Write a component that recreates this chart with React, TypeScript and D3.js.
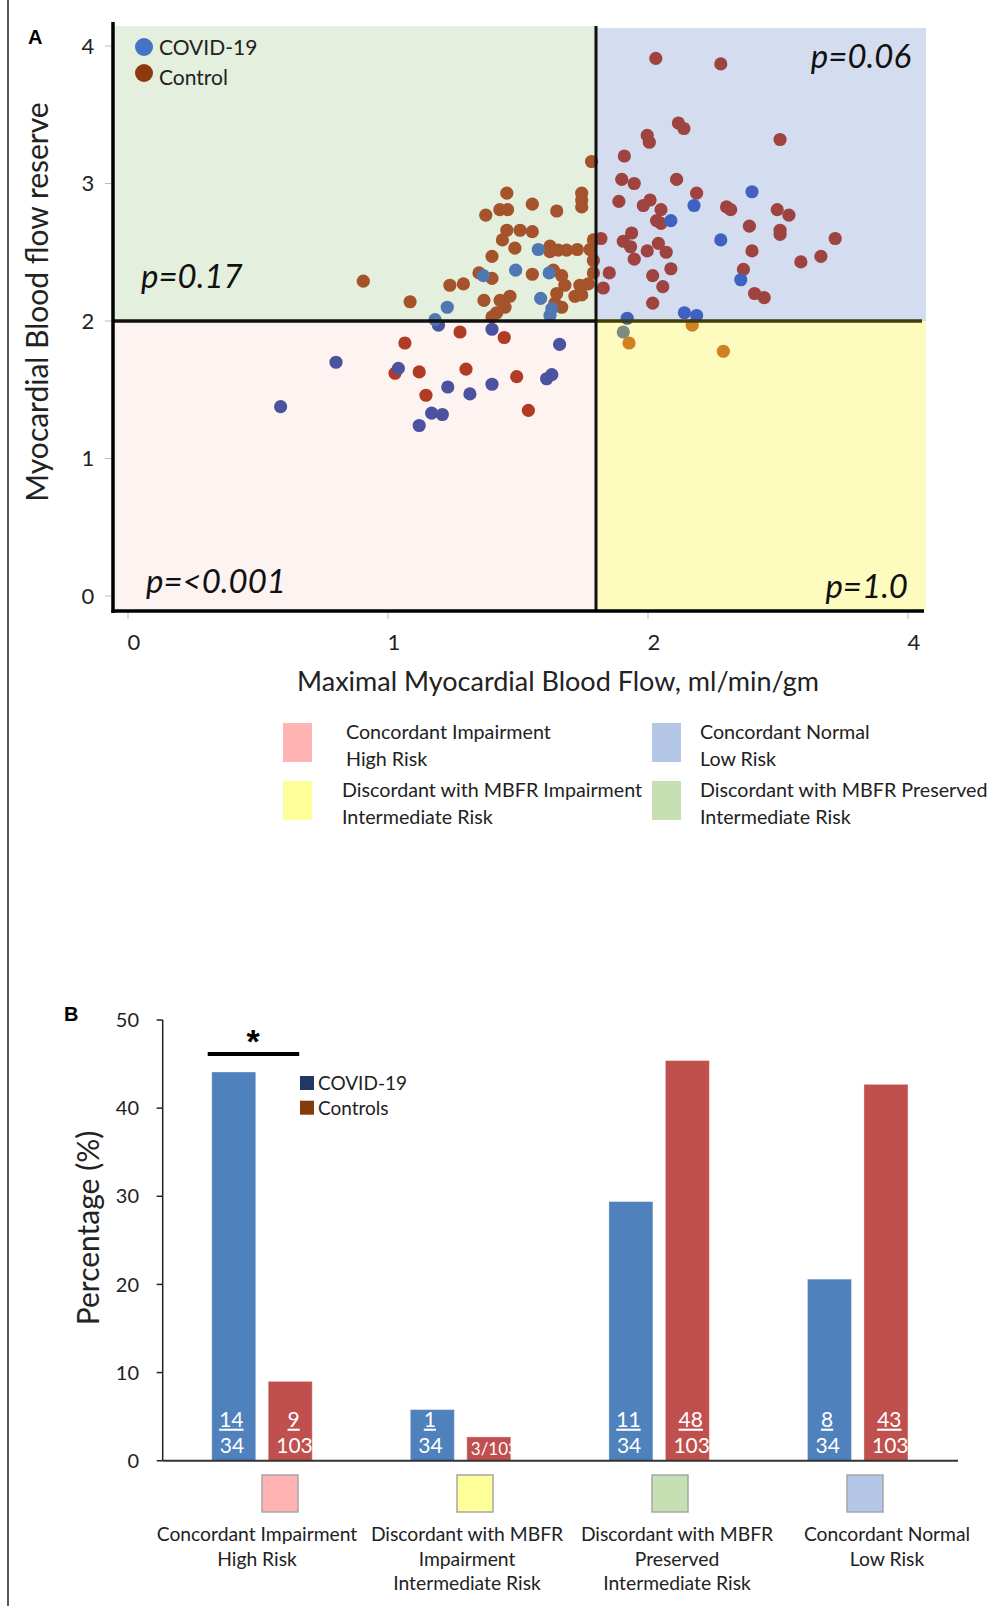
import React from "react";
import * as d3 from "d3";

// ---------- Panel A: maximal MBF (x) vs MBF reserve (y) ----------
const covidPoints: [number, number][] = [
  // concordant impairment
  [0.587, 1.377], [0.8, 1.7], [1.04, 1.656], [1.194, 1.97], [1.4, 1.94], [1.66, 1.83],
  [1.23, 1.52], [1.315, 1.47], [1.4, 1.54], [1.61, 1.58], [1.63, 1.61], [1.168, 1.33],
  [1.209, 1.32], [1.12, 1.24],
  // discordant, MBFR preserved
  [1.181, 2.01], [1.578, 2.52], [1.491, 2.37], [1.62, 2.35], [1.367, 2.33], [1.587, 2.165],
  [1.228, 2.1], [1.63, 2.09], [1.623, 2.04],
  // concordant normal
  [2.4, 2.94], [2.177, 2.84], [2.088, 2.73], [2.28, 2.59], [2.357, 2.3], [2.14, 2.06],
  [2.187, 2.04], [1.92, 2.02],
  // discordant, MBFR impaired
  [1.905, 1.92],
];

const controlPoints: [number, number][] = [
  // discordant, MBFR preserved
  [1.783, 3.16], [1.457, 2.93], [1.745, 2.93], [1.745, 2.88], [1.745, 2.83], [1.555, 2.85],
  [1.43, 2.81], [1.46, 2.81], [1.376, 2.77], [1.649, 2.8], [1.457, 2.66], [1.508, 2.66],
  [1.555, 2.65], [1.44, 2.59], [1.488, 2.53], [1.623, 2.545], [1.623, 2.504], [1.655, 2.516],
  [1.687, 2.516], [1.728, 2.52], [1.777, 2.52], [1.79, 2.59], [1.79, 2.44], [1.79, 2.35],
  [1.4, 2.47], [1.35, 2.35], [1.4, 2.31], [1.555, 2.34], [1.636, 2.37], [1.668, 2.33],
  [1.68, 2.26], [1.738, 2.26], [1.77, 2.27], [1.719, 2.18], [1.745, 2.19], [0.905, 2.29],
  [1.238, 2.26], [1.29, 2.27], [1.085, 2.14], [1.369, 2.15], [1.431, 2.15], [1.469, 2.18],
  [1.45, 2.1], [1.418, 2.06], [1.4, 2.03], [1.649, 2.2], [1.642, 2.13], [1.668, 2.1],
  // concordant normal
  [2.03, 3.91], [2.28, 3.87], [2.117, 3.44], [2.138, 3.4], [1.997, 3.35], [2.005, 3.3],
  [2.508, 3.32], [1.909, 3.2], [1.899, 3.03], [1.947, 3.0], [2.11, 3.03], [2.187, 2.93],
  [1.888, 2.87], [1.982, 2.84], [2.008, 2.88], [2.05, 2.81], [2.033, 2.73], [2.05, 2.71],
  [2.302, 2.83], [2.318, 2.81], [2.497, 2.81], [2.542, 2.77], [2.39, 2.69], [2.508, 2.66],
  [2.508, 2.63], [2.72, 2.6], [1.819, 2.6], [1.937, 2.64], [1.905, 2.58], [1.933, 2.54],
  [1.947, 2.45], [1.997, 2.51], [2.04, 2.565], [2.07, 2.5], [2.4, 2.51], [1.851, 2.35],
  [1.828, 2.24], [2.088, 2.38], [2.018, 2.33], [2.057, 2.25], [2.367, 2.375], [2.588, 2.43],
  [2.665, 2.47], [2.41, 2.2], [2.447, 2.17], [2.018, 2.13],
  // discordant, MBFR impaired
  [1.927, 1.84], [2.17, 1.97], [2.29, 1.78],
  // concordant impairment
  [1.065, 1.84], [1.277, 1.92], [1.447, 1.88], [1.027, 1.62], [1.12, 1.63], [1.3, 1.65],
  [1.495, 1.595], [1.146, 1.46], [1.54, 1.35],
];

const xTicks = [0, 1, 2, 3];
const xTickLabels = ["0", "1", "2", "4"];
const yTicks = [0, 1, 2, 3, 4];
const mbfCut = 1.8;
const mbfrCut = 2;

type Quad = "impair" | "preserved" | "normal" | "discord";
const quadOf = (x: number, y: number): Quad =>
  x < mbfCut ? (y < mbfrCut ? "impair" : "preserved") : y < mbfrCut ? "discord" : "normal";

const quadBg: Record<Quad, string> = {
  impair: "#fdf3f1",
  preserved: "#e4efdd",
  normal: "#d4ddef",
  discord: "#fefbbf",
};
const covidColor: Record<Quad, string> = {
  impair: "#4b52a0",
  preserved: "#5077b2",
  normal: "#3f62c0",
  discord: "#7f8b80",
};
const controlColor: Record<Quad, string> = {
  impair: "#b03c26",
  preserved: "#a4532a",
  normal: "#9f4340",
  discord: "#d08222",
};

const keyItems = [
  { label: ["Concordant Impairment", "High Risk"], color: "#ffb3b3" },
  { label: ["Concordant Normal", "Low Risk"], color: "#b4c7e7" },
  { label: ["Discordant with MBFR Impairment", "Intermediate Risk"], color: "#ffff99" },
  { label: ["Discordant with MBFR Preserved", "Intermediate Risk"], color: "#c6e0b4" },
];

// ---------- Panel B: distribution by category ----------
const categories = ["impair", "discord", "preserved", "normal"];
const categoryLines = [
  ["Concordant Impairment", "High Risk"],
  ["Discordant with MBFR", "Impairment", "Intermediate Risk"],
  ["Discordant with MBFR", "Preserved", "Intermediate Risk"],
  ["Concordant Normal", "Low Risk"],
];
const categorySwatch = ["#ffb3b3", "#ffff99", "#c6e0b4", "#b4c7e7"];
const covidPct = [44.1, 5.8, 29.4, 20.6];
const controlPct = [9.0, 2.7, 45.4, 42.7];
const covidN = [14, 1, 11, 8];
const controlN = [9, 3, 48, 43];
const covidTotal = 34;
const controlTotal = 103;
const bTicks = [0, 10, 20, 30, 40, 50];

const FONT = "Lato, 'Open Sans', sans-serif";

export default function App() {
  // panel A geometry
  const A = { left: 113, right: 924, top: 26, bottom: 611 };
  const x = d3.scaleLinear().domain([0, 3]).range([128, 908]);
  const y = d3.scaleLinear().domain([0, 4]).range([596, 46]);
  const xc = x(mbfCut);
  const yc = y(mbfrCut);

  const quads: { q: Quad; x0: number; x1: number; y0: number; y1: number }[] = [
    { q: "preserved", x0: A.left, x1: xc, y0: A.top, y1: yc },
    { q: "normal", x0: xc, x1: A.right + 2, y0: A.top + 2, y1: yc },
    { q: "impair", x0: A.left, x1: xc, y0: yc, y1: A.bottom },
    { q: "discord", x0: xc, x1: A.right + 2, y0: yc, y1: A.bottom },
  ];

  // panel B geometry
  const yB = d3.scaleLinear().domain([0, 50]).range([1460.7, 1020]);
  const x0 = d3.scaleBand<string>().domain(categories).range([162.7, 957]).padding(0);
  const bw = x0.bandwidth();
  const x1 = d3
    .scaleBand<string>()
    .domain(["covid", "control"])
    .range([bw / 2 - 50.25, bw / 2 + 50.25])
    .paddingInner(0.221);
  const labX = d3.scalePoint<string>().domain(categories).range([257, 887]);
  const swX = d3.scalePoint<string>().domain(categories).range([280, 865]);
  const base = yB(0);

  const bars = categories.flatMap((c, i) => [
    { c, i, key: "covid", v: covidPct[i], n: covidN[i], tot: covidTotal, fill: "#4f81bd" },
    { c, i, key: "control", v: controlPct[i], n: controlN[i], tot: controlTotal, fill: "#c0504d" },
  ]);

  return (
    <svg
      width={990}
      height={1606}
      style={{ position: "absolute", left: 0, top: 0, background: "#fff" }}
      fontFamily={FONT}
    >
      {/* figure frame */}
      <line x1={8} x2={8} y1={0} y2={1606} stroke="#222" strokeWidth={1.5} />

      {/* ================= Panel A ================= */}
      <text x={28} y={44} fontSize={20} fontWeight="bold" fontFamily="'Liberation Sans', Arial, sans-serif">A</text>

      {quads.map((d) => (
        <rect key={d.q} x={d.x0} y={d.y0} width={d.x1 - d.x0} height={d.y1 - d.y0} fill={quadBg[d.q]} />
      ))}

      {/* points */}
      {controlPoints.map((p, i) => (
        <circle key={"c" + i} cx={x(p[0])} cy={y(p[1])} r={6.6} fill={controlColor[quadOf(p[0], p[1])]} />
      ))}
      {covidPoints.map((p, i) => (
        <circle key={"v" + i} cx={x(p[0])} cy={y(p[1])} r={6.6} fill={covidColor[quadOf(p[0], p[1])]} />
      ))}

      {/* dividers */}
      <line x1={A.left} x2={xc} y1={yc} y2={yc} stroke="#111" strokeWidth={3.5} />
      <line x1={xc} x2={A.right - 2} y1={yc} y2={yc} stroke="#3f3c0a" strokeWidth={3.5} />
      <line x1={xc} x2={xc} y1={A.top} y2={A.bottom} stroke="#111" strokeWidth={3} />

      {/* axes */}
      {yTicks.map((t) => (
        <g key={"yt" + t}>
          <line x1={A.left - 8} x2={A.left} y1={y(t)} y2={y(t)} stroke="#bbb" strokeWidth={1} />
          <text x={88} y={y(t)} dy="0.36em" textAnchor="middle" fontSize={22} fill="#222">
            {t}
          </text>
        </g>
      ))}
      {xTicks.map((t, i) => (
        <g key={"xt" + t}>
          <line x1={x(t)} x2={x(t)} y1={A.bottom} y2={A.bottom + 8} stroke="#bbb" strokeWidth={1} />
          <text x={x(t) + 6} y={650} textAnchor="middle" fontSize={22} fill="#222">
            {xTickLabels[i]}
          </text>
        </g>
      ))}
      <line x1={A.left} x2={A.left} y1={A.top - 4} y2={A.bottom + 2} stroke="#000" strokeWidth={3.5} />
      <line x1={A.left - 1.5} x2={A.right} y1={A.bottom} y2={A.bottom} stroke="#000" strokeWidth={3.5} />

      <text
        transform={`translate(48,302) rotate(-90)`}
        textAnchor="middle"
        fontSize={30}
        fill="#222"
      >
        Myocardial Blood flow reserve
      </text>
      <text x={558} y={691} textAnchor="middle" fontSize={27} fill="#222">
        Maximal Myocardial Blood Flow, ml/min/gm
      </text>

      {/* p values */}
      <g fontStyle="italic" fontSize={33} fill="#111">
        <text x={A.left + 28} y={yc - 33}>p=0.17</text>
        <text x={A.right - 13} y={A.top + 42} textAnchor="end">p=0.06</text>
        <text x={A.left + 33} y={A.bottom - 18}>p=&lt;0.001</text>
        <text x={A.right - 16} y={A.bottom - 13} textAnchor="end">p=1.0</text>
      </g>

      {/* series legend */}
      <circle cx={144} cy={47} r={9} fill="#4472c4" />
      <text x={159} y={55} fontSize={21} fill="#222">COVID-19</text>
      <circle cx={144} cy={73} r={9} fill="#8b3a10" />
      <text x={159} y={85} fontSize={21} fill="#222">Control</text>

      {/* quadrant key */}
      {keyItems.map((k, i) => {
        const col = i % 2;
        const row = Math.floor(i / 2);
        const sx = col === 0 ? 283 : 652;
        const sy = row === 0 ? 723 : 781;
        const tx = col === 0 ? (row === 0 ? 346 : 342) : 700;
        return (
          <g key={"k" + i}>
            <rect x={sx} y={sy} width={29} height={39} fill={k.color} />
            {k.label.map((l, j) => (
              <text key={j} x={tx} y={sy + 16 + j * 27} fontSize={19.7} fill="#222">
                {l}
              </text>
            ))}
          </g>
        );
      })}

      {/* ================= Panel B ================= */}
      <text x={64} y={1021} fontSize={20} fontWeight="bold" fontFamily="'Liberation Sans', Arial, sans-serif">B</text>

      {bTicks.map((t) => (
        <g key={"bt" + t}>
          <line x1={156.7} x2={162.7} y1={yB(t)} y2={yB(t)} stroke="#222" strokeWidth={1.5} />
          <text x={139} y={yB(t)} dy="0.36em" textAnchor="end" fontSize={20} fill="#222">
            {t}
          </text>
        </g>
      ))}
      <text transform={`translate(99,1228) rotate(-90)`} textAnchor="middle" fontSize={30} fill="#222">
        Percentage (%)
      </text>

      <defs>
        {bars.map((b) => (
          <clipPath key={"cp" + b.c + b.key} id={"cp-" + b.c + b.key}>
            <rect x={(x0(b.c) as number) + (x1(b.key) as number)} y={yB(b.v)} width={x1.bandwidth()} height={base - yB(b.v)} />
          </clipPath>
        ))}
      </defs>

      {bars.map((b) => {
        const bx = (x0(b.c) as number) + (x1(b.key) as number);
        const w = x1.bandwidth();
        const by = yB(b.v);
        const h = base - by;
        const denom = String(b.tot);
        const cx = bx + 8 + denom.length * 5.8;
        return (
          <g key={b.c + b.key}>
            <rect x={bx} y={by} width={w} height={h} fill={b.fill} stroke="#ffffff" strokeOpacity={0.35} strokeWidth={1} />
            {h > 30 ? (
              <g fill="#fff" fontSize={21}>
                <text x={cx} y={base - 34} textAnchor="middle" textDecoration="underline">
                  {b.n}
                </text>
                <text x={bx + 8} y={base - 8}>{denom}</text>
              </g>
            ) : (
              <text
                x={bx + 4}
                y={base - 6}
                fontSize={17}
                fill="#fff"
                clipPath={`url(#cp-${b.c}${b.key})`}
              >
                {b.n}/{denom}
              </text>
            )}
          </g>
        );
      })}

      <line x1={162.7} x2={162.7} y1={yB(50)} y2={base} stroke="#222" strokeWidth={1.5} />
      <line x1={162.7} x2={958} y1={base} y2={base} stroke="#333" strokeWidth={2} />

      {/* significance bracket */}
      <line x1={(x0("impair") as number) + 45} x2={(x0("impair") as number) + 136.5} y1={1054} y2={1054} stroke="#000" strokeWidth={4} />
      <text
        x={(x0("impair") as number) + 90.5}
        y={1053}
        textAnchor="middle"
        fontSize={34}
        fontWeight="bold"
        fontFamily="'Liberation Sans', Arial, sans-serif"
      >
        *
      </text>

      {/* series legend B */}
      <rect x={300} y={1076} width={14} height={14} fill="#1f3864" />
      <text x={318} y={1090} fontSize={19} fill="#222">COVID-19</text>
      <rect x={300} y={1100.7} width={14} height={14} fill="#843c0c" />
      <text x={318} y={1115} fontSize={19} fill="#222">Controls</text>

      {/* category swatches and labels */}
      {categories.map((c, i) => (
        <g key={"cat" + c}>
          <rect
            x={(swX(c) as number) - 18}
            y={1475}
            width={36}
            height={37}
            fill={categorySwatch[i]}
            stroke="#a6a6a6"
            strokeWidth={1.5}
          />
          {categoryLines[i].map((l, j) => (
            <text key={j} x={labX(c)} y={1541 + j * 24.5} textAnchor="middle" fontSize={19.3} fill="#222">
              {l}
            </text>
          ))}
        </g>
      ))}
    </svg>
  );
}
